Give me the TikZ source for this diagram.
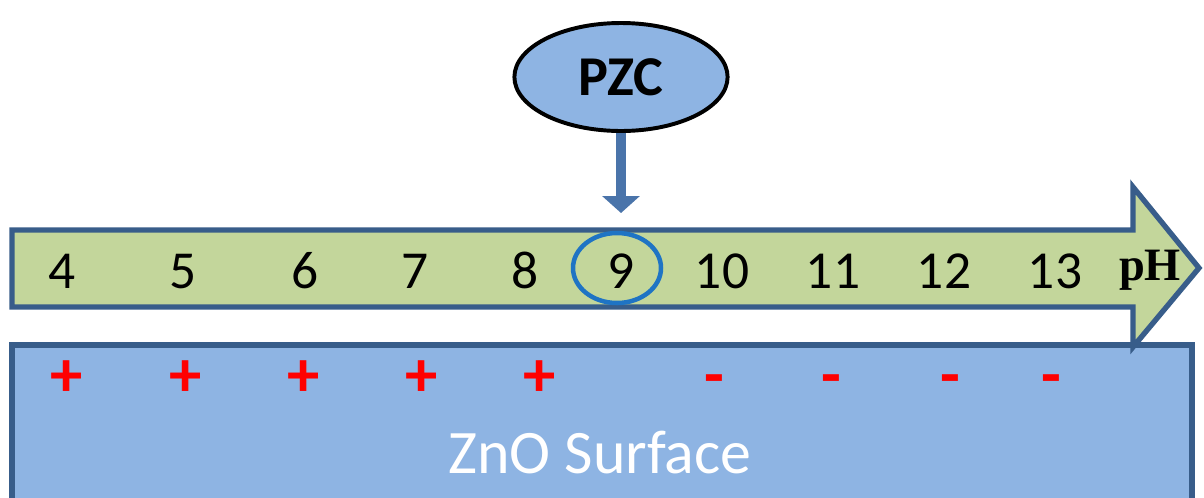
\documentclass[tikz,border=0pt]{standalone}
\usepackage{fontspec}
\setmainfont{Carlito}
\newfontfamily\phfont{Liberation Serif}
\usetikzlibrary{shapes.geometric,arrows.meta}
\definecolor{edgeblue}{HTML}{385D8A}
\definecolor{bandgreen}{HTML}{C3D69B}
\definecolor{surfblue}{HTML}{8EB4E3}
\definecolor{ringblue}{HTML}{1F74C4}
\definecolor{pointblue}{HTML}{4A74AA}

\begin{document}
\begin{tikzpicture}[x=0.25mm, y=-0.25mm,
  num/.style={anchor=base, font=\fontsize{38}{40}\selectfont},
  sign/.style={anchor=base, red, font=\bfseries\fontsize{46}{48}\selectfont}]
\useasboundingbox (0,0) rectangle (1204,497);
\fill[white] (0,0) rectangle (1204,497);

\draw[edgeblue, fill=surfblue, line width=3.8pt] (12,530) -- (12,345) -- (1192,345) -- (1192,530);
\draw[edgeblue, fill=bandgreen, line width=3.8pt] (12,230) -- (1133,230) -- (1133,187) -- (1199,268) -- (1133,347) -- (1133,307) -- (12,307) -- cycle;

\node[num] (n4) at (62,288) {4};
\node[num] (n5) at (183,288) {5};
\node[num] (n6) at (305,288) {6};
\node[num] (n7) at (415,288) {7};
\node[num] (n8) at (525,288) {8};
\node[num] (n9) at (621,288) {9};
\node[num] (n10) at (722,288) {10};
\node[num] (n11) at (833,288) {11};
\node[num] (n12) at (944,288) {12};
\node[num] (n13) at (1055,288) {13};
\node[anchor=base, font=\phfont\bfseries\fontsize{33}{35}\selectfont] (ph) at (1150,280) {pH};
\node[draw=ringblue, line width=3.2pt, ellipse, minimum width=2.2cm, minimum height=1.75cm, inner sep=0pt] (ring) at (617,268) {};

\node[sign] (p4) at (67,396) {+};
\node[sign] (p5) at (186,396) {+};
\node[sign] (p6) at (304,396) {+};
\node[sign] (p7) at (422,396) {+};
\node[sign] (p8) at (540,396) {+};
\node[sign] (m10) at (714,396) {-};
\node[sign] (m11) at (831,396) {-};
\node[sign] (m12) at (950,396) {-};
\node[sign] (m13) at (1051,396) {-};
\node[anchor=base, white, font=\fontsize{44}{46}\selectfont] (surf) at (600,473) {ZnO Surface};

\node[ellipse, draw=black, fill=surfblue, line width=2.8pt, minimum width=5.33cm, minimum height=2.7cm, inner sep=0pt, font=\bfseries\fontsize{40}{42}\selectfont] (pzc) at (621,77) {PZC};
\coordinate (tip) at (622,213);
\draw[pointblue, line width=7.8pt, -{Triangle[width=26pt,length=12pt]}] (pzc.south) -- (pzc.south |- tip);

\end{tikzpicture}
\end{document}
